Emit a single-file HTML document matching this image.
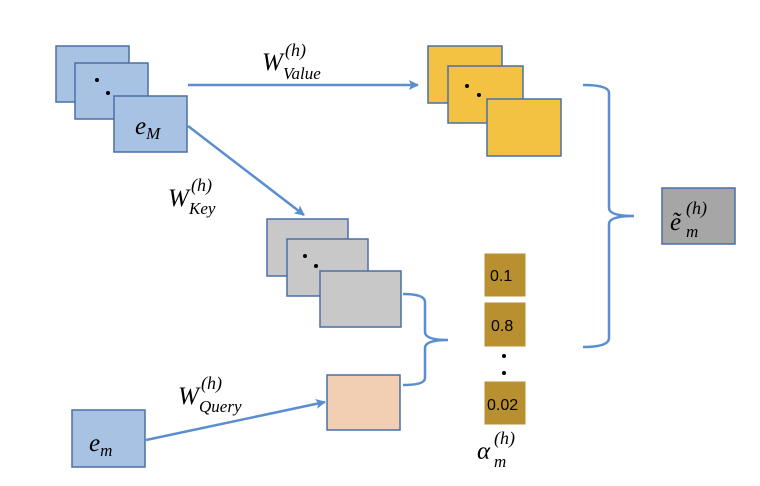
<!DOCTYPE html>
<html><head><meta charset="utf-8"><style>
html,body{margin:0;padding:0;background:#fff;width:760px;height:486px;overflow:hidden}
text{font-family:"Liberation Serif",serif;font-style:italic;fill:#000}
.n{font-family:"Liberation Sans",sans-serif;font-style:normal;font-size:16px}
</style></head><body>
<svg width="760" height="486" viewBox="0 0 760 486" xmlns="http://www.w3.org/2000/svg">
<defs><marker id="a" markerWidth="10" markerHeight="10" refX="9" refY="5" orient="auto" markerUnits="userSpaceOnUse"><path d="M0,0 L10,5 L0,10 L2,5 Z" fill="#5B8ED0"/></marker></defs>
<g stroke="#4A6FA5" stroke-width="1.5">
<rect x="56" y="46" width="73" height="56" fill="#A7C2E3"/>
<rect x="75" y="63" width="73" height="56" fill="#A7C2E3"/>
<rect x="114" y="96" width="73" height="56" fill="#A7C2E3"/>
<rect x="428" y="46" width="74" height="57" fill="#F4C242"/>
<rect x="448" y="66" width="75" height="57" fill="#F4C242"/>
<rect x="487" y="99" width="74" height="57" fill="#F4C242"/>
<rect x="267" y="219" width="81" height="57" fill="#C8C8C8"/>
<rect x="287" y="239" width="81" height="57" fill="#C8C8C8"/>
<rect x="320" y="271" width="81" height="56" fill="#C8C8C8"/>
<rect x="327" y="375" width="73" height="55" fill="#F2CFB2"/>
<rect x="72" y="410" width="73" height="57" fill="#A7C2E3"/>
<rect x="662" y="188" width="73" height="56" fill="#A6A6A6"/>
</g>
<g fill="#B8902F" stroke="#fff" stroke-width="1">
<rect x="484" y="253" width="42" height="44"/>
<rect x="484" y="302" width="42" height="45"/>
<rect x="484" y="381" width="42" height="44"/>
</g>
<g fill="#000">
<circle cx="97" cy="80" r="2"/><circle cx="108" cy="93" r="2"/>
<circle cx="467" cy="86" r="2"/><circle cx="479" cy="95" r="2"/>
<circle cx="305" cy="256" r="2"/><circle cx="316" cy="266" r="2"/>
<circle cx="504" cy="356" r="2"/><circle cx="504" cy="373" r="2"/>
</g>
<g stroke="#5B8ED0" stroke-width="2.5" fill="none">
<line x1="188" y1="85" x2="418" y2="85" marker-end="url(#a)"/>
<line x1="188" y1="126" x2="304" y2="215" marker-end="url(#a)"/>
<line x1="146" y1="440" x2="325" y2="402" marker-end="url(#a)"/>
<path d="M403,294 Q425,294 425,302 L425,332 Q425,340 448,340 Q425,340 425,348 L425,378 Q425,385 403,385"/>
<path d="M583,85 Q609,85 609,93 L609,208 Q609,216 634,216 Q609,216 609,224 L609,338 Q609,347 583,347"/>
</g>
<text class="n" x="490" y="281">0.1</text>
<text class="n" x="491" y="331">0.8</text>
<text class="n" x="487" y="410">0.02</text>
<text x="135" y="134" font-size="25">e<tspan font-size="17" dy="5">M</tspan></text>
<text x="89" y="451" font-size="25">e<tspan font-size="17" dy="5">m</tspan></text>
<text x="262" y="70" font-size="25">W</text><text x="285" y="56" font-size="18">(h)</text><text x="283" y="79" font-size="17">Value</text>
<text x="168" y="206" font-size="25">W</text><text x="191" y="191" font-size="18">(h)</text><text x="189" y="214" font-size="17">Key</text>
<text x="178" y="404" font-size="25">W</text><text x="201" y="389" font-size="18">(h)</text><text x="199" y="412" font-size="17">Query</text>
<text x="477" y="459" font-size="25">α</text><text x="494" y="444" font-size="18">(h)</text><text x="494" y="467" font-size="17">m</text>
<text x="670" y="230" font-size="25">ẽ</text><text x="686" y="214" font-size="18">(h)</text><text x="686" y="237" font-size="17">m</text>
</svg>
</body></html>
